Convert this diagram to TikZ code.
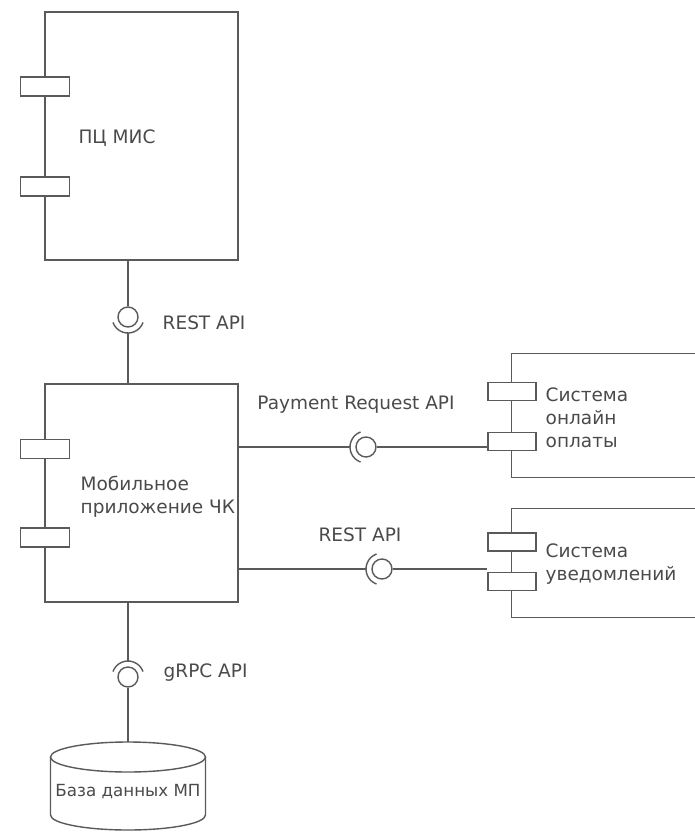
\documentclass[tikz,border=0pt]{standalone}
\usepackage{fontspec}
\setmainfont{DejaVu Sans}
\definecolor{ln}{HTML}{5A5A5A}
\definecolor{txt}{HTML}{4A4A4A}
\tikzset{
  comp/.style={draw=ln, rectangle, inner sep=0pt, fill=white},
  port/.style={draw=ln, rectangle, minimum width=49pt, minimum height=19pt, inner sep=0pt, fill=white},
  ball/.style={draw=ln, circle, minimum size=20pt, inner sep=0pt, fill=white},
  lbl/.style={font=\fontsize{18.5}{22.8}\selectfont, text=txt, inner sep=0pt, align=left},
  conn/.style={draw=ln},
}
\begin{document}
\begin{tikzpicture}[x=1pt, y=-1pt, line width=1.4pt]
\useasboundingbox (0,0) rectangle (695,833);

% ПЦ МИС
\node[comp, minimum width=193pt, minimum height=248pt] (pcmis) at (141.5,136) {};
\node[port] (pcp1) at (45,86.5) {};
\node[port] (pcp2) at (45,186.5) {};
\node[lbl] (pctext) at (117,138) {ПЦ МИС};

% Mobile app
\node[comp, minimum width=193pt, minimum height=218pt] (mob) at (141.5,493) {};
\node[port] (mp1) at (45,449) {};
\node[port] (mp2) at (45,537.5) {};
\node[lbl, anchor=west] (mtext) at (80,496.5) {Мобильное\\приложение ЧК};

% Online payment system
\node[minimum width=183pt, minimum height=123pt, inner sep=0pt] (sys1) at (603.5,415.5) {};
\draw[conn] (sys1.north east) -- (sys1.north west) -- (sys1.south west) -- (sys1.south east);
\node[port, minimum width=48pt, minimum height=18pt] (s1p1) at (512,391.5) {};
\node[port, minimum width=48pt, minimum height=18pt] (s1p2) at (512,441.5) {};
\node[lbl, anchor=west] (s1text) at (545,418) {Система\\онлайн\\оплаты};

% Notification system
\node[minimum width=183pt, minimum height=108pt, inner sep=0pt] (sys2) at (603.5,563) {};
\draw[conn] (sys2.north east) -- (sys2.north west) -- (sys2.south west) -- (sys2.south east);
\node[port, minimum width=48pt, minimum height=18pt] (s2p1) at (512,542) {};
\node[port, minimum width=48pt, minimum height=18pt] (s2p2) at (512,581.5) {};
\node[lbl, anchor=west] (s2text) at (545,564) {Система\\уведомлений};

% Database
\coordinate (dbtop) at (128,742);
\draw[conn, fill=white] (50.5,757) -- (50.5,815) arc[start angle=180, end angle=0, x radius=77.5, y radius=15] -- (205.5,757);
\draw[conn, fill=white] (128,757) ellipse [x radius=77.5, y radius=15];
\node[lbl, font=\fontsize{16.7}{20}\selectfont] (dbtext) at (128,792) {База данных МП};

% Balls
\node[ball] (b1) at (366,447) {};
\node[ball] (b2) at (382,569) {};
\node[ball] (b3) at (128,317) {};
\node[ball] (b4) at (128,677) {};
\path (b1.center) ++(-16,0) coordinate (s1);
\path (b2.center) ++(-16,0) coordinate (s2);
\path (b3.center) ++(0,16) coordinate (s3);
\path (b4.center) ++(0,-16) coordinate (s4);

% Sockets
\draw[conn] (b1.center) ++(110:16) arc[start angle=110, end angle=250, radius=16];
\draw[conn] (b2.center) ++(110:16) arc[start angle=110, end angle=250, radius=16];
\draw[conn] (b3.center) ++(20:16) arc[start angle=20, end angle=160, radius=16];
\draw[conn] (b4.center) ++(200:16) arc[start angle=200, end angle=340, radius=16];

% Connectors
\draw[conn] (pcmis.south -| b3) -- (b3.north);
\draw[conn] (s3) -- (mob.north -| s3);
\draw[conn] (mob.east |- s1) -- (s1);
\draw[conn] (b1.east) -- (b1.east -| s1p2.west);
\draw[conn] (mob.east |- s2) -- (s2);
\draw[conn] (b2.east) -- (b2.east -| s2p2.west);
\draw[conn] (mob.south -| s4) -- (s4);
\draw[conn] (b4.south) -- (dbtop);

% Labels
\node[lbl, anchor=west] (l1) at (162,323) {REST API};
\node[lbl] (l2) at (356,405) {Payment Request API};
\node[lbl] (l3) at (360,535) {REST API};
\node[lbl, anchor=west] (l4) at (163,673) {gRPC API};
\end{tikzpicture}
\end{document}
